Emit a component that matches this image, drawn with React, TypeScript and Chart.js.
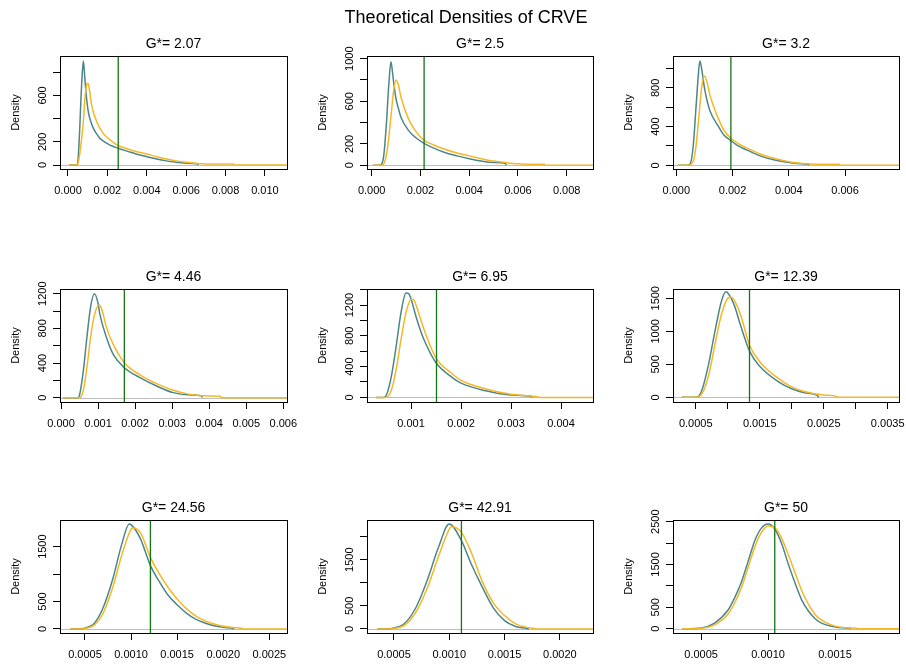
import React, { useEffect, useRef } from "react";
import { Chart, registerables } from "chart.js";

Chart.register(...registerables);

const FONT = "'Liberation Sans', Arial, Helvetica, sans-serif";

// ---------------- data ----------------
const mainTitle = "Theoretical Densities of CRVE";
const panelTitles = ["G*= 2.07", "G*= 2.5", "G*= 3.2", "G*= 4.46", "G*= 6.95", "G*= 12.39", "G*= 24.56", "G*= 42.91", "G*= 50"];
const yAxisTitle = "Density";

const vlineX = [0.00255, 0.00215, 0.00194, 0.00171, 0.00151, 0.00134, 0.00121, 0.00111, 0.00105];

const xMin = [-0.000406, -0.000193, -0.000119, -0.000027, 0.00012, 0.000144, 0.000229, 0.000256, 0.00029];
const xMax = [0.01112, 0.00908, 0.00792, 0.0061, 0.00464, 0.003677, 0.002692, 0.0023, 0.001978];
const yMin = [-34, -35, -38, -50, -60, -70, -73, -87, -100];
const yMax = [940, 1025, 1130, 1254, 1408, 1640, 1985, 2358, 2539];

const xTicks1 = [0, 0.002, 0.004, 0.006, 0.008, 0.01];
const xLabels1 = ["0.000", "0.002", "0.004", "0.006", "0.008", "0.010"];
const xTicks2 = [0, 0.002, 0.004, 0.006, 0.008];
const xLabels2 = ["0.000", "0.002", "0.004", "0.006", "0.008"];
const xTicks3 = [0, 0.002, 0.004, 0.006];
const xLabels3 = ["0.000", "0.002", "0.004", "0.006"];
const xTicks4 = [0, 0.001, 0.002, 0.003, 0.004, 0.005, 0.006];
const xLabels4 = ["0.000", "0.001", "0.002", "0.003", "0.004", "0.005", "0.006"];
const xTicks5 = [0.001, 0.002, 0.003, 0.004];
const xLabels5 = ["0.001", "0.002", "0.003", "0.004"];
const xTicks6 = [0.0005, 0.001, 0.0015, 0.002, 0.0025, 0.003, 0.0035];
const xLabels6 = ["0.0005", "", "0.0015", "", "0.0025", "", "0.0035"];
const xTicks7 = [0.0005, 0.001, 0.0015, 0.002, 0.0025];
const xLabels7 = ["0.0005", "0.0010", "0.0015", "0.0020", "0.0025"];
const xTicks8 = [0.0005, 0.001, 0.0015, 0.002];
const xLabels8 = ["0.0005", "0.0010", "0.0015", "0.0020"];
const xTicks9 = [0.0005, 0.001, 0.0015];
const xLabels9 = ["0.0005", "0.0010", "0.0015"];

const yTicks1 = [0, 200, 400, 600, 800];
const yLabels1 = [0, 200, 600];
const yTicks2 = [0, 200, 400, 600, 800, 1000];
const yLabels2 = [0, 200, 600, 1000];
const yTicks3 = [0, 200, 400, 600, 800, 1000];
const yLabels3 = [0, 400, 800];
const yTicks4 = [0, 200, 400, 600, 800, 1000, 1200];
const yLabels4 = [0, 400, 800, 1200];
const yTicks5 = [0, 200, 400, 600, 800, 1000, 1200, 1400];
const yLabels5 = [0, 400, 800, 1200];
const yTicks6 = [0, 500, 1000, 1500];
const yLabels6 = [0, 500, 1000, 1500];
const yTicks7 = [0, 500, 1000, 1500];
const yLabels7 = [0, 500, 1500];
const yTicks8 = [0, 500, 1000, 1500, 2000];
const yLabels8 = [0, 500, 1500];
const yTicks9 = [0, 500, 1000, 1500, 2000, 2500];
const yLabels9 = [0, 500, 1500, 2500];

// density curves (teal = first series, gold = second series)
const p1TealX = [0.00005, 0.00045, 0.0005, 0.00055, 0.0006, 0.00065, 0.0007, 0.00078, 0.00085, 0.00091, 0.00103, 0.00115, 0.00129, 0.00145, 0.00162, 0.0019, 0.00213, 0.00255, 0.003, 0.0035, 0.004, 0.0045, 0.005, 0.0055, 0.006, 0.0066, 0.00662];
const p1TealY = [0, 0, 30, 150, 330, 540, 720, 897, 760, 632, 460, 380, 316, 270, 230, 195, 172, 145, 120, 93, 72, 52, 36, 24, 15, 10, 0];
const p1GoldX = [0.00005, 0.0004, 0.0005, 0.0006, 0.0007, 0.00078, 0.00086, 0.00093, 0.001, 0.00105, 0.0012, 0.00146, 0.00179, 0.0023, 0.0026, 0.003, 0.0035, 0.004, 0.0045, 0.005, 0.0055, 0.006, 0.0065, 0.007, 0.0084, 0.00842, 0.01112];
const p1GoldY = [0, 0, 10, 100, 240, 373, 575, 680, 706, 690, 517, 373, 273, 196, 165, 140, 115, 95, 72, 52, 36, 24, 15, 10, 9, 0, 0];

const p2TealX = [0.00005, 0.0003, 0.0004, 0.0005, 0.0006, 0.0007, 0.00079, 0.00085, 0.0009, 0.001, 0.0011, 0.0012, 0.0015, 0.0018, 0.00215, 0.0025, 0.003, 0.0035, 0.004, 0.0045, 0.005, 0.0055, 0.00552];
const p2TealY = [0, 0, 10, 100, 380, 750, 971, 880, 780, 620, 530, 450, 330, 260, 206, 165, 120, 88, 62, 40, 25, 15, 0];
const p2GoldX = [0.00005, 0.0004, 0.0005, 0.0006, 0.0007, 0.0008, 0.0009, 0.001, 0.0011, 0.0012, 0.0015, 0.0018, 0.00215, 0.0025, 0.003, 0.0035, 0.004, 0.0045, 0.005, 0.0055, 0.006, 0.0068, 0.0071, 0.00712, 0.00908];
const p2GoldY = [0, 0, 15, 90, 260, 480, 700, 800, 750, 640, 440, 320, 235, 195, 150, 115, 88, 62, 40, 25, 14, 10, 10, 0, 0];

const p3TealX = [0.00005, 0.0004, 0.0005, 0.0006, 0.0007, 0.0008, 0.00084, 0.0009, 0.001, 0.0011, 0.0012, 0.0015, 0.0017, 0.00194, 0.0022, 0.0025, 0.003, 0.0035, 0.004, 0.0045, 0.0047, 0.00472];
const p3TealY = [0, 0, 20, 200, 600, 1000, 1079, 1000, 800, 660, 560, 400, 310, 255, 200, 160, 95, 55, 30, 15, 12, 0];
const p3GoldX = [0.00005, 0.0004, 0.0006, 0.0007, 0.0008, 0.0009, 0.001, 0.0011, 0.0012, 0.0015, 0.0017, 0.00194, 0.0022, 0.0025, 0.003, 0.0035, 0.004, 0.0045, 0.005, 0.0058, 0.00582, 0.00792];
const p3GoldY = [0, 0, 40, 200, 500, 800, 923, 850, 720, 480, 360, 280, 225, 180, 115, 70, 38, 20, 12, 10, 0, 0];

const p4TealX = [0.00005, 0.00045, 0.0005, 0.0006, 0.0007, 0.0008, 0.0009, 0.001, 0.00105, 0.00123, 0.00141, 0.00171, 0.00213, 0.00258, 0.00303, 0.0035, 0.0038, 0.00382];
const p4TealY = [0, 0, 30, 300, 700, 1050, 1200, 1090, 961, 692, 500, 346, 231, 135, 58, 30, 20, 0];
const p4GoldX = [0.00005, 0.0005, 0.0006, 0.0007, 0.0008, 0.0009, 0.00103, 0.0011, 0.00123, 0.00141, 0.00171, 0.00213, 0.00258, 0.00303, 0.00348, 0.004, 0.0043, 0.00432, 0.0061];
const p4GoldY = [0, 0, 80, 350, 700, 950, 1069, 1020, 808, 615, 404, 262, 162, 85, 38, 20, 15, 0, 0];

const p5TealX = [0.0003, 0.00045, 0.0005, 0.0006, 0.0007, 0.0008, 0.0009, 0.00095, 0.001, 0.0011, 0.0012, 0.0013, 0.0015, 0.0018, 0.002, 0.0025, 0.003, 0.0034, 0.00342];
const p5TealY = [0, 0, 20, 250, 650, 1100, 1355, 1350, 1280, 1050, 850, 690, 450, 270, 185, 85, 30, 12, 0];
const p5GoldX = [0.0003, 0.0005, 0.0006, 0.0007, 0.0008, 0.0009, 0.001, 0.00105, 0.0011, 0.0012, 0.0013, 0.0015, 0.0018, 0.002, 0.0025, 0.003, 0.0035, 0.0036, 0.00464];
const p5GoldY = [0, 0, 80, 350, 750, 1100, 1270, 1270, 1200, 1000, 810, 510, 320, 220, 110, 40, 12, 0, 0];

const p6TealX = [0.00028, 0.0005, 0.00055, 0.0006, 0.0007, 0.0008, 0.0009, 0.00097, 0.001, 0.0011, 0.0012, 0.00134, 0.0015, 0.0018, 0.002, 0.0022, 0.0024, 0.00242];
const p6TealY = [0, 0, 20, 120, 500, 1000, 1450, 1597, 1580, 1400, 1090, 700, 470, 230, 130, 70, 30, 0];
const p6GoldX = [0.00028, 0.0005, 0.0006, 0.0007, 0.0008, 0.0009, 0.001, 0.00105, 0.0011, 0.0012, 0.00134, 0.0015, 0.0018, 0.002, 0.0022, 0.0025, 0.0027, 0.00272, 0.003677];
const p6GoldY = [0, 0, 60, 330, 800, 1250, 1500, 1520, 1470, 1250, 790, 540, 280, 160, 90, 35, 15, 0, 0];

const p7TealX = [0.00034, 0.0004, 0.0005, 0.0006, 0.0007, 0.0008, 0.0009, 0.00098, 0.001, 0.0011, 0.00121, 0.0013, 0.0014, 0.0015, 0.0016, 0.0017, 0.0018, 0.0019, 0.002, 0.0021, 0.00212];
const p7TealY = [0, 0, 15, 100, 400, 900, 1550, 1913, 1900, 1650, 1154, 880, 620, 440, 290, 180, 110, 60, 30, 12, 0];
const p7GoldX = [0.00034, 0.0004, 0.0005, 0.0006, 0.0007, 0.0008, 0.0009, 0.001, 0.00102, 0.0011, 0.00121, 0.0013, 0.0014, 0.0015, 0.0016, 0.0017, 0.0018, 0.0019, 0.002, 0.0021, 0.0022, 0.00222, 0.002692];
const p7GoldY = [0, 0, 10, 70, 300, 750, 1350, 1820, 1840, 1760, 1305, 1020, 760, 546, 370, 240, 150, 90, 50, 28, 14, 0, 0];

const p8TealX = [0.00035, 0.0004, 0.0005, 0.0006, 0.0007, 0.0008, 0.0009, 0.001, 0.00111, 0.0012, 0.0013, 0.0014, 0.0015, 0.0016, 0.0017, 0.00172];
const p8TealY = [0, 0, 20, 130, 470, 1050, 1750, 2270, 1910, 1400, 900, 450, 180, 55, 12, 0];
const p8GoldX = [0.00035, 0.0004, 0.0005, 0.0006, 0.0007, 0.0008, 0.0009, 0.001, 0.00102, 0.00111, 0.0012, 0.0013, 0.0014, 0.0015, 0.0016, 0.0017, 0.00177, 0.00179, 0.0023];
const p8GoldY = [0, 0, 12, 90, 370, 880, 1550, 2160, 2213, 2090, 1650, 1020, 560, 290, 110, 35, 12, 0, 0];

const p9TealX = [0.00036, 0.0004, 0.0005, 0.0006, 0.0007, 0.00075, 0.0008, 0.00085, 0.0009, 0.00095, 0.001, 0.00105, 0.0011, 0.00115, 0.0012, 0.00125, 0.0013, 0.00135, 0.0014, 0.0015, 0.0016, 0.00162];
const p9TealY = [0, 0, 15, 130, 430, 720, 1080, 1560, 2050, 2350, 2446, 2330, 2000, 1520, 1080, 680, 420, 240, 130, 40, 10, 0];
const p9GoldX = [0.00036, 0.0004, 0.0005, 0.0006, 0.0007, 0.00075, 0.0008, 0.00085, 0.0009, 0.00095, 0.001, 0.00105, 0.0011, 0.00115, 0.0012, 0.00125, 0.0013, 0.00135, 0.0014, 0.0015, 0.0016, 0.00166, 0.00168, 0.001978];
const p9GoldY = [0, 0, 10, 90, 340, 600, 950, 1420, 1900, 2250, 2400, 2360, 2120, 1740, 1320, 900, 580, 340, 200, 60, 18, 10, 0, 0];

// ---------------- assembly ----------------
const xTicksAll = [xTicks1, xTicks2, xTicks3, xTicks4, xTicks5, xTicks6, xTicks7, xTicks8, xTicks9];
const xLabelsAll = [xLabels1, xLabels2, xLabels3, xLabels4, xLabels5, xLabels6, xLabels7, xLabels8, xLabels9];
const yTicksAll = [yTicks1, yTicks2, yTicks3, yTicks4, yTicks5, yTicks6, yTicks7, yTicks8, yTicks9];
const yLabelsAll = [yLabels1, yLabels2, yLabels3, yLabels4, yLabels5, yLabels6, yLabels7, yLabels8, yLabels9];
const tealAll = [
  [p1TealX, p1TealY], [p2TealX, p2TealY], [p3TealX, p3TealY],
  [p4TealX, p4TealY], [p5TealX, p5TealY], [p6TealX, p6TealY],
  [p7TealX, p7TealY], [p8TealX, p8TealY], [p9TealX, p9TealY],
];
const goldAll = [
  [p1GoldX, p1GoldY], [p2GoldX, p2GoldY], [p3GoldX, p3GoldY],
  [p4GoldX, p4GoldY], [p5GoldX, p5GoldY], [p6GoldX, p6GoldY],
  [p7GoldX, p7GoldY], [p8GoldX, p8GoldY], [p9GoldX, p9GoldY],
];

const TEAL = "#4d8689";
const GOLD = "#f5b726";
const GREEN = "#137513";

// layout (pixels)
const BOX_LEFT = [60, 367, 673];
const BOX_W = [227, 226, 226];
const RIGHT_PAD = [19, 13, 7];
const BOX_TOP = [56, 289, 520];
const BOX_H = 113;
const PAD_L = 60;
const TITLE_SPACE = 56;
const X_AXIS_H = 31;

const toPts = (xs: number[], ys: number[]) => xs.map((x, i) => ({ x, y: ys[i] }));

const framePlugin = {
  id: "rframe",
  beforeDatasetsDraw(chart: any) {
    const { ctx, chartArea: a, scales } = chart;
    const y0 = Math.round(scales.y.getPixelForValue(0)) + 0.5;
    ctx.save();
    ctx.strokeStyle = "#bebebe";
    ctx.lineWidth = 1;
    ctx.beginPath();
    ctx.moveTo(a.left, y0);
    ctx.lineTo(a.right, y0);
    ctx.stroke();
    ctx.restore();
  },
  afterDraw(chart: any, _args: any, opts: any) {
    const { ctx, chartArea: a, scales } = chart;
    ctx.save();
    ctx.strokeStyle = "#000";
    ctx.lineWidth = 1;
    ctx.strokeRect(a.left + 0.5, a.top + 0.5, a.right - a.left, a.bottom - a.top);
    ctx.fillStyle = "#000";
    ctx.font = `11px ${FONT}`;
    ctx.textAlign = "center";
    ctx.textBaseline = "alphabetic";
    for (const v of opts.yLabels as number[]) {
      const py = scales.y.getPixelForValue(v);
      ctx.save();
      ctx.translate(a.left - 14, py);
      ctx.rotate(-Math.PI / 2);
      ctx.fillText(String(v), 0, 0);
      ctx.restore();
    }
    ctx.save();
    ctx.translate(a.left - 41, (a.top + a.bottom) / 2);
    ctx.rotate(-Math.PI / 2);
    ctx.fillText(yAxisTitle, 0, 0);
    ctx.restore();
    ctx.restore();
  },
};

function Panel({ idx }: { idx: number }) {
  const ref = useRef<HTMLCanvasElement>(null);
  const col = idx % 3;
  const row = Math.floor(idx / 3);
  const width = PAD_L + BOX_W[col] + RIGHT_PAD[col];
  const height = TITLE_SPACE + BOX_H + X_AXIS_H;

  useEffect(() => {
    if (!ref.current) return;
    const xt = xTicksAll[idx];
    const xl = xLabelsAll[idx];
    const yt = yTicksAll[idx];
    const chart = new Chart(ref.current, {
      type: "line",
      data: {
        datasets: [
          {
            label: "threshold",
            data: [
              { x: vlineX[idx], y: yMin[idx] },
              { x: vlineX[idx], y: yMax[idx] },
            ],
            borderColor: GREEN,
            borderWidth: 1.3,
            pointRadius: 0,
          },
          {
            label: "gold",
            data: toPts(goldAll[idx][0], goldAll[idx][1]),
            borderColor: GOLD,
            borderWidth: 1.5,
            pointRadius: 0,
            cubicInterpolationMode: "monotone",
          },
          {
            label: "teal",
            data: toPts(tealAll[idx][0], tealAll[idx][1]),
            borderColor: TEAL,
            borderWidth: 1.5,
            pointRadius: 0,
            cubicInterpolationMode: "monotone",
          },
        ],
      },
      options: {
        responsive: false,
        animation: false,
        devicePixelRatio: 1,
        parsing: false,
        layout: { padding: { left: PAD_L, right: RIGHT_PAD[col], top: 0, bottom: 0 } },
        plugins: {
          legend: { display: false },
          tooltip: { enabled: false },
          title: {
            display: true,
            text: panelTitles[idx],
            color: "#000",
            font: { family: FONT, size: 14, weight: "normal", lineHeight: 1.2 },
            padding: { top: 36, bottom: TITLE_SPACE - 36 - 16.8 },
          },
          rframe: { yLabels: yLabelsAll[idx] },
        } as any,
        scales: {
          x: {
            type: "linear",
            min: xMin[idx],
            max: xMax[idx],
            afterFit: (s: any) => {
              s.height = X_AXIS_H;
              s.paddingLeft = 0;
              s.paddingRight = 0;
            },
            afterBuildTicks: (s: any) => {
              s.ticks = xt.map((v) => ({ value: v }));
            },
            ticks: {
              autoSkip: false,
              maxRotation: 0,
              minRotation: 0,
              padding: 8,
              color: "#000",
              font: { family: FONT, size: 11 },
              callback: (_v: any, i: number) => xl[i],
            },
            grid: { drawOnChartArea: false, drawTicks: true, tickLength: 7, color: "#000", tickColor: "#000" },
            border: { display: false },
          },
          y: {
            type: "linear",
            min: yMin[idx],
            max: yMax[idx],
            afterFit: (s: any) => {
              s.width = 0;
              s.paddingTop = 0;
              s.paddingBottom = 0;
            },
            afterBuildTicks: (s: any) => {
              s.ticks = yt.map((v) => ({ value: v }));
            },
            ticks: { display: false, autoSkip: false },
            grid: { drawOnChartArea: false, drawTicks: true, tickLength: 7, color: "#000", tickColor: "#000" },
            border: { display: false },
          },
        },
      } as any,
      plugins: [framePlugin],
    });
    return () => chart.destroy();
  }, [idx]);

  return (
    <canvas
      ref={ref}
      width={width}
      height={height}
      style={{
        position: "absolute",
        left: BOX_LEFT[col] - PAD_L,
        top: BOX_TOP[row] - TITLE_SPACE,
        width,
        height,
        display: "block",
      }}
    />
  );
}

export default function App() {
  return (
    <div
      style={{
        position: "absolute",
        left: 0,
        top: 0,
        width: 906,
        height: 664,
        background: "#fff",
        overflow: "hidden",
      }}
    >
      {panelTitles.map((_, i) => (
        <Panel key={i} idx={i} />
      ))}
      <div
        style={{
          position: "absolute",
          left: 466,
          top: 8,
          transform: "translateX(-50%)",
          fontFamily: FONT,
          fontSize: 18,
          lineHeight: "18px",
          color: "#000",
          whiteSpace: "nowrap",
        }}
      >
        {mainTitle}
      </div>
    </div>
  );
}
